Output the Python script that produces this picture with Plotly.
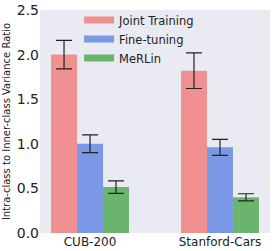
import plotly.graph_objects as go

categories = ["CUB-200", "Stanford-Cars"]
series_names = ["Joint Training", "Fine-tuning", "MeRLin"]
values = {
    "Joint Training": [2.0, 1.82],
    "Fine-tuning": [1.0, 0.96],
    "MeRLin": [0.515, 0.40],
}
errors = {
    "Joint Training": [0.16, 0.20],
    "Fine-tuning": [0.10, 0.09],
    "MeRLin": [0.07, 0.04],
}
colors = {
    "Joint Training": "#F09090",
    "Fine-tuning": "#7B98E6",
    "MeRLin": "#6AB46E",
}
y_ticks = [0.0, 0.5, 1.0, 1.5, 2.0, 2.5]

fig = go.Figure()
for name in series_names:
    fig.add_trace(go.Bar(
        x=categories, y=values[name], name=name, showlegend=False,
        marker=dict(color=colors[name], line=dict(width=0)),
        error_y=dict(type="data", array=errors[name], color="#222222",
                     thickness=1.2, width=8),
    ))
# legend entries with wide swatches
for name in series_names:
    fig.add_trace(go.Scatter(
        x=[None], y=[None], mode="lines", name=name,
        line=dict(color=colors[name], width=7),
    ))

fig.update_layout(
    width=274, height=251,
    margin=dict(l=40, r=4, t=10, b=18),
    paper_bgcolor="white",
    plot_bgcolor="#EAEAF2",
    barmode="group", bargap=0.4, bargroupgap=0,
    font=dict(family="DejaVu Sans", color="#222222"),
    showlegend=True,
    legend=dict(x=0.17, y=1.02, xanchor="left", yanchor="top",
                bgcolor="rgba(0,0,0,0)", font=dict(size=11.5),
                tracegroupgap=0),
    xaxis=dict(range=[-0.385, 1.385], showgrid=False, zeroline=False,
               ticks="", tickfont=dict(size=12), automargin=False),
    yaxis=dict(range=[0, 2.5], tickvals=y_ticks,
               ticktext=[f"{v:.1f}" for v in y_ticks],
               showgrid=False, zeroline=False, ticks="",
               tickfont=dict(size=14), automargin=False,
               title=dict(text="Intra-class to Inner-class Variance Ratio",
                          font=dict(size=10), standoff=4)),
)

fig.write_html("out.html", config={"displayModeBar": False},
               post_script="document.body.style.margin='0';")
